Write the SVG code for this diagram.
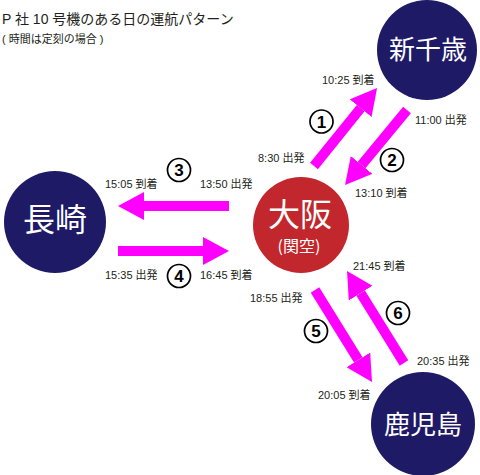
<svg xmlns="http://www.w3.org/2000/svg" width="480" height="475" viewBox="0 0 480 475">
<defs>
<style>
.t{font-family:"Liberation Sans","Noto Sans CJK JP",sans-serif;font-size:11px;fill:#231f20}
.title{font-family:"Liberation Sans","Noto Sans CJK JP",sans-serif;font-size:14px;fill:#231f20}
.navy{fill:#1e1a66}
.red{fill:#c1272d}
.nt{font-family:"Noto Sans CJK JP",sans-serif;fill:#ffffff;text-anchor:middle}
.arr{stroke:#ff00ff;stroke-width:10;fill:none;marker-end:url(#ah)}
.num circle{fill:#ffffff;stroke:#000000;stroke-width:1.7}
.num text{font-family:"Liberation Sans",sans-serif;font-weight:bold;font-size:17px;fill:#000000;text-anchor:middle}
</style>
<marker id="ah" markerUnits="userSpaceOnUse" markerWidth="26" markerHeight="28" viewBox="0 0 26 28" refX="0" refY="14" orient="auto">
<path d="M0,0 L26,14 L0,28 Z" fill="#ff00ff"/>
</marker>
</defs>
<rect width="480" height="475" fill="#ffffff"/>
<text class="title" x="2" y="24">P 社 10 号機のある日の運航パターン</text>
<text class="t" x="2" y="43">( 時間は定刻の場合 )</text>

<g id="connectors">
<line class="arr" x1="314" y1="166" x2="360.7" y2="108.2"/>
<line class="arr" x1="407" y1="110" x2="361.6" y2="165"/>
<line class="arr" x1="229" y1="206" x2="144" y2="206"/>
<line class="arr" x1="118" y1="251" x2="203" y2="251"/>
<line class="arr" x1="315" y1="290" x2="358.3" y2="359.9"/>
<line class="arr" x1="404" y1="363" x2="360.7" y2="293.1"/>
</g>

<g id="node-shinchitose">
<circle class="navy" cx="427" cy="50" r="50"/>
<text class="nt" x="428" y="59" font-size="26">新千歳</text>
</g>
<g id="node-nagasaki">
<circle class="navy" cx="55" cy="222" r="51"/>
<text class="nt" x="55" y="231" font-size="32">長崎</text>
</g>
<g id="node-osaka">
<circle class="red" cx="301" cy="225" r="48"/>
<text class="nt" x="300" y="226" font-size="32">大阪</text>
<text class="nt" x="299" y="252" font-size="16">(関空)</text>
</g>
<g id="node-kagoshima">
<circle class="navy" cx="423" cy="424" r="52"/>
<text class="nt" x="423" y="434" font-size="26">鹿児島</text>
</g>

<g id="labels">
<text class="t" x="322" y="84">10:25 到着</text>
<text class="t" x="415" y="124">11:00 出発</text>
<text class="t" x="258" y="162">8:30 出発</text>
<text class="t" x="355" y="197">13:10 到着</text>
<text class="t" x="105" y="188">15:05 到着</text>
<text class="t" x="200" y="188">13:50 出発</text>
<text class="t" x="105" y="279">15:35 出発</text>
<text class="t" x="200" y="279">16:45 到着</text>
<text class="t" x="353" y="270">21:45 到着</text>
<text class="t" x="250" y="302">18:55 出発</text>
<text class="t" x="417" y="365">20:35 出発</text>
<text class="t" x="318" y="399">20:05 到着</text>
</g>

<g id="num-1" class="num"><circle cx="321.5" cy="121.5" r="11.5"/><text x="321.5" y="127.5">1</text></g>
<g id="num-2" class="num"><circle cx="392" cy="160" r="11.5"/><text x="392" y="166">2</text></g>
<g id="num-3" class="num"><circle cx="179" cy="170" r="11.5"/><text x="179" y="176">3</text></g>
<g id="num-4" class="num"><circle cx="179" cy="276" r="11.5"/><text x="179" y="282">4</text></g>
<g id="num-5" class="num"><circle cx="316" cy="331" r="11.5"/><text x="316" y="337">5</text></g>
<g id="num-6" class="num"><circle cx="398" cy="313" r="11.5"/><text x="398" y="319">6</text></g>
</svg>
